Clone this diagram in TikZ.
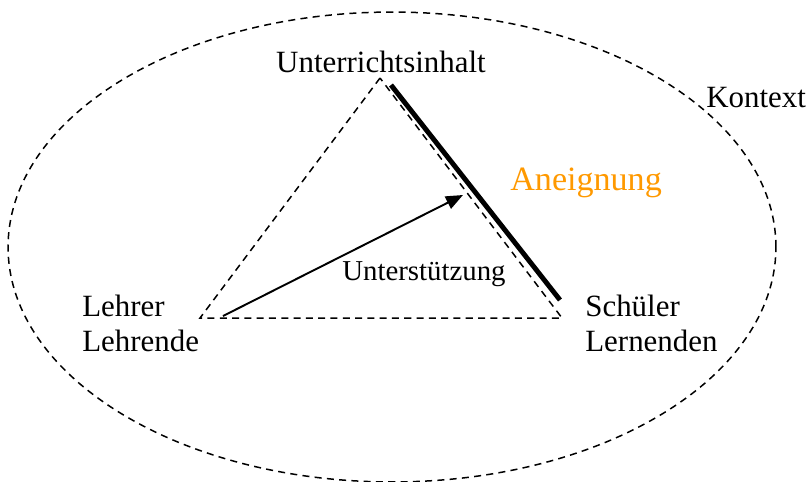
\documentclass[tikz,border=0pt]{standalone}
\usepackage{fontspec}
\setmainfont{Liberation Serif}
\usetikzlibrary{positioning,arrows.meta}
\definecolor{aneignung}{RGB}{255,153,0}

\begin{document}
\begin{tikzpicture}[x=0.02cm, y=-0.02cm,
    txt/.style={inner sep=0pt, font=\fontsize{17.6}{21}\selectfont},
    kontext/.style={dash pattern=on 4pt off 3pt, line width=0.85pt}]
    \useasboundingbox (0,0) rectangle (809,481);

    \coordinate (M) at (392,247);
    \coordinate (U) at (380,78);
    \coordinate (L) at (200,318);
    \coordinate (S) at (562,318);
    \coordinate (A1) at (391,85);
    \coordinate (A2) at (560,300);
    \coordinate (T1) at (223,316);
    \coordinate (T2) at (463,195);

    \draw[kontext] (M) ellipse [x radius=7.68cm, y radius=4.7cm];
    \draw[kontext] (U) -- (L) -- (S) -- cycle;
    \draw[line width=2.8pt] (A1) -- (A2);
    \draw[-{Triangle[length=0.34cm,width=0.27cm]}, line width=1.1pt] (T1) -- (T2);

    \node[txt, anchor=base] (inhalt) at (381,72) {Unterrichtsinhalt};
    \node[txt, anchor=base west] (lehrer) at (82,316) {Lehrer};
    \node[txt, below=0.72cm of lehrer.base west, anchor=base west] (lehrende) {Lehrende};
    \node[txt, anchor=base west] (schueler) at (585,316) {Schüler};
    \node[txt, below=0.72cm of schueler.base west, anchor=base west] (lernende) {Lernenden};
    \node[txt, anchor=base west] (kontextlbl) at (706,107) {Kontext};
    \node[txt, anchor=base west, text=aneignung, font=\fontsize{19.4}{23}\selectfont] (aneignunglbl) at (510,190) {Aneignung};
    \node[txt, anchor=base west, font=\fontsize{16.4}{20}\selectfont] (stuetzung) at (342,280) {Unterstützung};
\end{tikzpicture}
\end{document}
